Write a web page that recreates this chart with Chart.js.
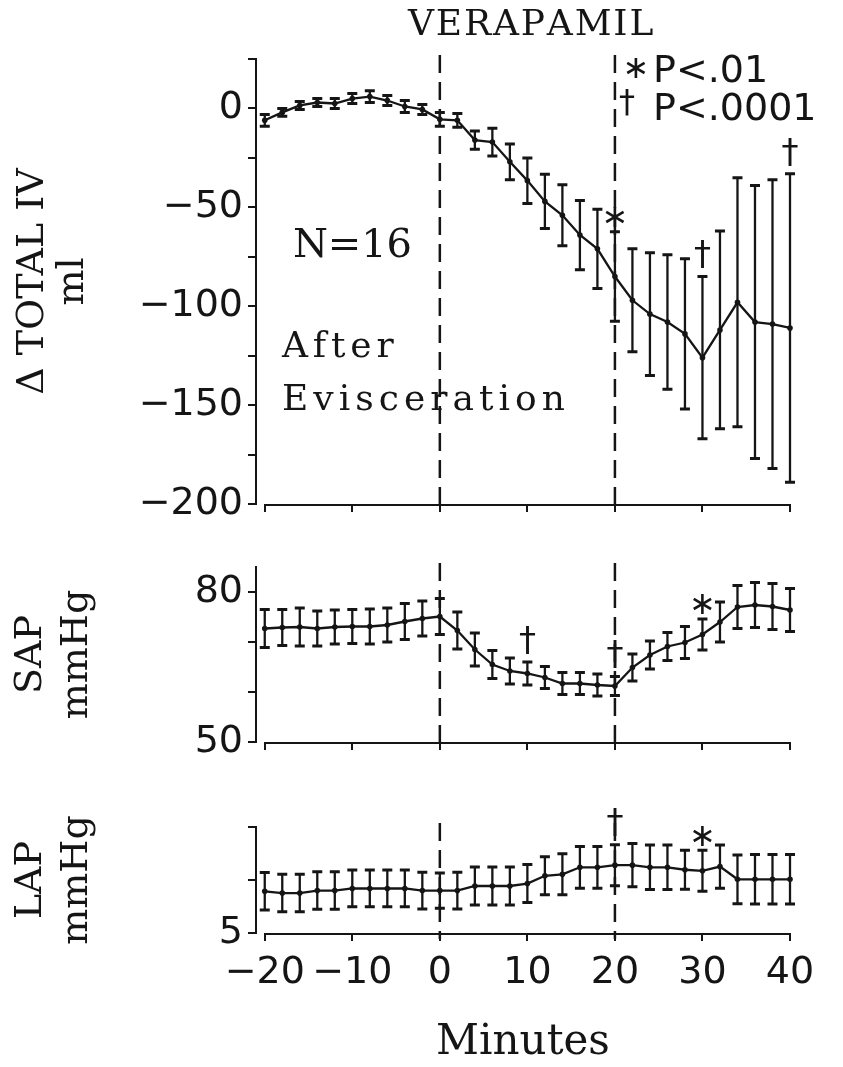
<!DOCTYPE html>
<html lang="en">
<head>
<meta charset="UTF-8">
<title>Verapamil after evisceration</title>
<script src="https://cdn.jsdelivr.net/npm/chart.js@4.4.1/dist/chart.umd.min.js"></script>
<style>
  html, body { margin: 0; padding: 0; background: #fff; }
  #wrap { position: relative; width: 843px; height: 1067px; overflow: hidden; }
  #wrap canvas { position: absolute; left: 0; top: 0; }
</style>
</head>
<body>
<div id="wrap">
  <canvas id="ivChart" width="843" height="1067"></canvas>
  <canvas id="sapChart" width="843" height="1067"></canvas>
  <canvas id="lapChart" width="843" height="1067"></canvas>
</div>
<script>
// time points (minutes), verapamil given at 0, dashed marker also at 20
const minutes = [-20, -18, -16, -14, -12, -10, -8, -6, -4, -2, 0, 2, 4, 6, 8, 10, 12, 14, 16, 18, 20,
                 22, 24, 26, 28, 30, 32, 34, 36, 38, 40];
const xTicks = [-20, -10, 0, 10, 20, 30, 40];
const drugLines = [0, 20];

// change in total intravascular volume (ml)
const ivMean = [-6, -2, 1.5, 3, 2.5, 5, 6, 4, 1, -0.5, -5.5,
                -6, -16, -17, -27, -36.5, -47, -54, -64, -71, -85,
                -97, -104, -108, -114, -126, -112, -98, -108, -109, -111];
const ivErr = [3, 2, 2, 2, 2.5, 2.5, 3, 2.5, 3, 2.5, 3.5,
               3.5, 4.6, 7, 9, 11.5, 13.7, 15.4, 17.5, 20, 22.6,
               26, 31, 34, 38, 41, 50, 63, 69, 73, 78];

// systemic arterial pressure (mmHg)
const sapMean = [72.7, 72.9, 73, 72.7, 73, 73.1, 73.1, 73.4, 74.1, 74.7, 75.1,
                 72.3, 68.5, 65.5, 64.2, 63.7, 62.9, 61.7, 61.7, 61.4, 61.2,
                 64.9, 67.4, 69.1, 69.9, 71.5, 74, 77, 77.4, 77.1, 76.4];
const sapErr = [3.8, 3.6, 3.8, 3.5, 3.4, 3.4, 3.5, 3.4, 3.6, 3.5, 3.6,
                3.7, 3.3, 2.8, 2.6, 2.3, 2.2, 2.2, 2.2, 2.2, 1.9,
                2.7, 2.8, 2.8, 3.2, 3.1, 4, 4.3, 4.5, 4.6, 4.3];

// left atrial pressure (mmHg)
const lapMean = [6.18, 6.13, 6.13, 6.2, 6.2, 6.26, 6.26, 6.26, 6.26, 6.2, 6.2,
                 6.2, 6.33, 6.33, 6.33, 6.4, 6.62, 6.66, 6.86, 6.86, 6.92,
                 6.92, 6.86, 6.86, 6.79, 6.76, 6.88, 6.52, 6.52, 6.52, 6.52];
const lapErr = [0.53, 0.53, 0.53, 0.53, 0.53, 0.52, 0.52, 0.52, 0.52, 0.52, 0.5,
                0.52, 0.54, 0.54, 0.54, 0.54, 0.54, 0.58, 0.59, 0.59, 0.58,
                0.61, 0.63, 0.63, 0.55, 0.58, 0.61, 0.69, 0.7, 0.7, 0.7];

// significance marks
const ivMarkX = [20, 30, 40];
const ivMarkSym = ['∗', '†', '†'];
const sapMarkX = [10, 20, 30];
const sapMarkSym = ['†', '†', '∗'];
const lapMarkX = [20, 30];
const lapMarkSym = ['†', '∗'];

const INK = '#151515';
const TEXT_FONT = 'DejaVu Serif';
const NUM_FONT = 'DejaVu Sans';
const fmt = v => String(v).replace('-', '−');

// spread a string so it spans a given width (typewriter spacing)
function drawSpread(ctx, text, left, baseline, width) {
  const chars = [...text];
  const natural = ctx.measureText(text).width;
  const gap = chars.length > 1 ? (width - natural) / (chars.length - 1) : 0;
  ctx.textAlign = 'left';
  let x = left;
  chars.forEach(ch => {
    ctx.fillText(ch, x, baseline);
    x += ctx.measureText(ch).width + gap;
  });
}

// draws mean ± error as capped vertical bars
const errorBars = {
  id: 'errorBars',
  afterDatasetsDraw(chart) {
    const { ctx, scales: { x, y } } = chart;
    chart.data.datasets.forEach(ds => {
      if (!ds.errors) return;
      ctx.save();
      ctx.strokeStyle = INK;
      ds.data.forEach((p, i) => {
        const px = x.getPixelForValue(p.x);
        const top = y.getPixelForValue(p.y + ds.errors[i]);
        const bot = y.getPixelForValue(p.y - ds.errors[i]);
        ctx.lineWidth = 2.3;
        ctx.beginPath();
        ctx.moveTo(px, top); ctx.lineTo(px, bot);
        ctx.stroke();
        ctx.lineWidth = 3;
        ctx.beginPath();
        ctx.moveTo(px - 5, top); ctx.lineTo(px + 5, top);
        ctx.moveTo(px - 5, bot); ctx.lineTo(px + 5, bot);
        ctx.stroke();
      });
      ctx.restore();
    });
  }
};

// dashed verticals at the drug times and a free-floating x axis line
const markers = {
  id: 'markers',
  beforeDatasetsDraw(chart) {
    const { ctx, chartArea: a, scales: { x } } = chart;
    ctx.save();
    ctx.strokeStyle = INK;
    ctx.lineWidth = 2.2;
    ctx.beginPath();
    ctx.moveTo(x.getPixelForValue(xTicks[0]), a.bottom + 1);
    ctx.lineTo(x.getPixelForValue(xTicks[xTicks.length - 1]), a.bottom + 1);
    ctx.stroke();
    ctx.lineWidth = 2.5;
    ctx.setLineDash([18, 9]);
    drugLines.forEach(m => {
      const px = x.getPixelForValue(m);
      ctx.beginPath();
      ctx.moveTo(px, a.top - 4);
      ctx.lineTo(px, a.bottom + 6);
      ctx.stroke();
    });
    ctx.restore();
  }
};

// significance symbols above the upper error cap
const sigMarks = {
  id: 'sigMarks',
  afterDatasetsDraw(chart, args, opts) {
    const { ctx, scales: { x, y } } = chart;
    const ds = chart.data.datasets[0];
    ctx.save();
    ctx.fillStyle = INK;
    ctx.textAlign = 'center';
    ctx.textBaseline = 'middle';
    opts.xs.forEach((m, k) => {
      const i = minutes.indexOf(m);
      const top = y.getPixelForValue(ds.data[i].y + ds.errors[i]);
      const dagger = opts.syms[k] === '†';
      ctx.font = (dagger ? '34px ' : '32px ') + NUM_FONT;
      ctx.fillText(opts.syms[k], x.getPixelForValue(m), top - (dagger ? 20 : 13));
    });
    ctx.restore();
  }
};

// free text in the top panel
const pageText = {
  id: 'pageText',
  afterDraw(chart) {
    const { ctx } = chart;
    ctx.save();
    ctx.fillStyle = INK;
    ctx.textBaseline = 'alphabetic';
    ctx.font = '36px ' + TEXT_FONT;
    drawSpread(ctx, 'VERAPAMIL', 408, 35, 242);
    ctx.font = '40px ' + TEXT_FONT;
    drawSpread(ctx, 'N=16', 293, 257, 119);
    ctx.font = '36px ' + TEXT_FONT;
    drawSpread(ctx, 'After', 282, 357, 111);
    drawSpread(ctx, 'Evisceration', 282, 410, 283);
    ctx.textAlign = 'left';
    ctx.font = '38px ' + NUM_FONT;
    ctx.fillText('P<.01', 653, 82);
    ctx.fillText('P<.0001', 653, 120);
    ctx.textAlign = 'center';
    ctx.textBaseline = 'middle';
    ctx.font = '32px ' + NUM_FONT;
    ctx.fillText('∗', 636, 70);
    ctx.fillText('†', 627, 104);
    ctx.restore();
  }
};

function xScale(showLabels, height) {
  return {
    type: 'linear',
    min: -21,
    max: 40,
    afterBuildTicks: s => { s.ticks = xTicks.map(v => ({ value: v })); },
    afterFit: s => { s.height = height; },
    border: { display: false },
    grid: { drawOnChartArea: false, drawTicks: true, tickLength: 8, color: INK, lineWidth: 2 },
    ticks: {
      display: showLabels,
      maxRotation: 0,
      autoSkip: false,
      padding: 9,
      color: INK,
      font: { family: NUM_FONT, size: 38 },
      callback: v => fmt(v)
    },
    title: {
      display: showLabels,
      text: 'Minutes',
      color: INK,
      font: { family: TEXT_FONT, size: 42, lineHeight: '44px' },
      padding: { top: 0, bottom: 2 }
    }
  };
}

function yScale(min, max, step, labelFrom, labelEvery, title, lineH, pad) {
  return {
    min: min,
    max: max,
    afterFit: s => { s.width = 256; },
    border: { display: true, color: INK, width: 2 },
    grid: { drawOnChartArea: false, drawTicks: true, tickLength: 8, color: INK, lineWidth: 2 },
    ticks: {
      stepSize: step,
      padding: 5,
      color: INK,
      font: { family: NUM_FONT, size: 38 },
      callback: v => {
        const k = (v - labelFrom) / labelEvery;
        return Math.abs(k - Math.round(k)) < 1e-6 ? fmt(v) : '';
      }
    },
    title: {
      display: true,
      text: title,
      color: INK,
      font: { family: TEXT_FONT, size: 38, lineHeight: lineH + 'px' },
      padding: { top: pad, bottom: 0 }
    }
  };
}

function panel(id, mean, err, marks, yOpts, padTop, padBottom, xHeight, showX, extra) {
  return new Chart(document.getElementById(id), {
    type: 'line',
    data: {
      datasets: [{
        data: minutes.map((m, i) => ({ x: m, y: mean[i] })),
        errors: err,
        borderColor: INK,
        borderWidth: 2.3,
        pointRadius: 2.8,
        pointBackgroundColor: INK,
        pointBorderWidth: 0,
        tension: 0,
        clip: false
      }]
    },
    options: {
      responsive: false,
      animation: false,
      layout: { padding: { left: 0, right: 53, top: padTop, bottom: padBottom } },
      scales: { x: xScale(showX, xHeight), y: yOpts },
      plugins: {
        legend: { display: false },
        tooltip: { enabled: false },
        sigMarks: marks
      }
    },
    plugins: [markers, errorBars, sigMarks].concat(extra)
  });
}

panel('ivChart', ivMean, ivErr, { xs: ivMarkX, syms: ivMarkSym },
      yScale(-200, 25, 25, 0, 50, ['Δ TOTAL IV', 'ml'], 40, 13),
      59, 1067 - 504 - 12, 12, false, [pageText]);

panel('sapChart', sapMean, sapErr, { xs: sapMarkX, syms: sapMarkSym },
      yScale(50, 85, 5, 50, 15, ['SAP', 'mmHg'], 46, 8),
      567, 1067 - 742 - 12, 12, false, []);

panel('lapChart', lapMean, lapErr, { xs: lapMarkX, syms: lapMarkSym },
      yScale(5, 8, 0.5, 5, 2, ['LAP', 'mmHg'], 46, 8),
      827, 0, 1067 - 933, true, []);
</script>
</body>
</html>
